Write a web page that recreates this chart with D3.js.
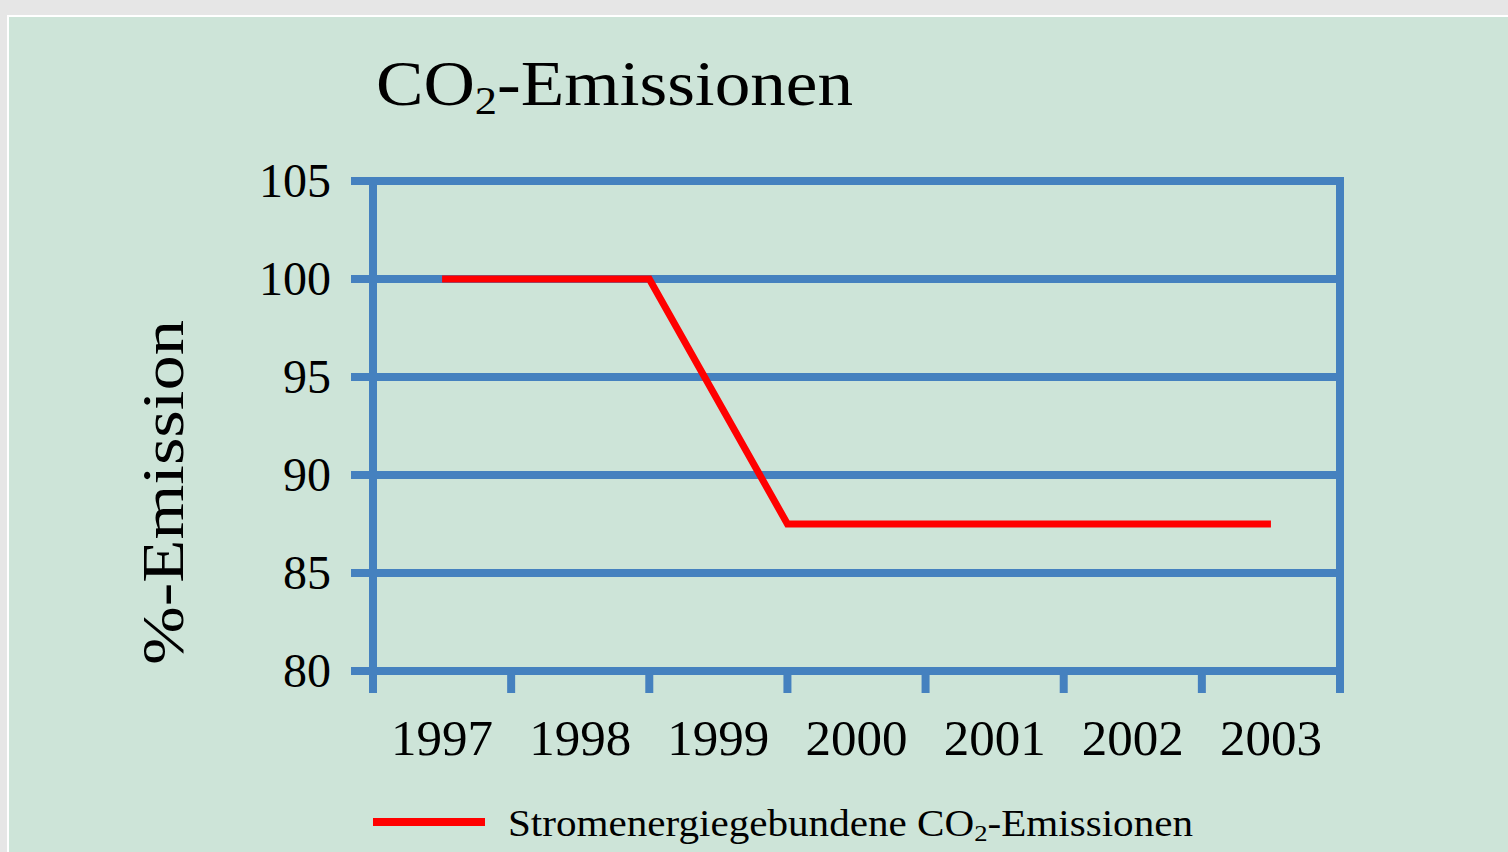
<!DOCTYPE html>
<html>
<head>
<meta charset="utf-8">
<script src="https://cdn.jsdelivr.net/npm/d3@7"></script>
<style>
  html, body { margin: 0; padding: 0; background: #e6e6e6; }
  svg { display: block; }
  text { font-family: "Liberation Serif", "Times New Roman", serif; fill: #000; }
</style>
</head>
<body>
<div id="chart"></div>
<script>
// Jahre (Kategorien) und Achsenwerte
const years = [1997, 1998, 1999, 2000, 2001, 2002, 2003];
const yTicks = [80, 85, 90, 95, 100, 105];

// Stromenergiegebundene CO2-Emissionen (Stützpunkte, in Jahren)
const seriesX = [1997, 1998.5, 1999.5, 2003];
const seriesY = [100, 100, 87.5, 87.5];

const width = 1508, height = 852;
const blue = "#4581bf", red = "#ff0000", panel = "#cde4d8";

const svg = d3.select("#chart").append("svg")
    .attr("width", width)
    .attr("height", height);

// Hintergrund: grauer Rand, weiße Linie, grünes Feld
svg.append("rect").attr("width", width).attr("height", height).attr("fill", "#e6e6e6");
svg.append("rect").attr("x", 7).attr("y", 15).attr("width", width).attr("height", height).attr("fill", "#fff");
svg.append("rect").attr("x", 9).attr("y", 17).attr("width", width).attr("height", height).attr("fill", panel);

// Skalen
const x = d3.scaleLinear().domain([1996.5, 2003.5]).range([373, 1340]);
const y = d3.scaleLinear().domain([80, 105]).range([671, 181]);

const g = svg.append("g");

// horizontale Gitterlinien
g.selectAll("line.grid")
    .data(yTicks)
    .join("line")
    .attr("class", "grid")
    .attr("x1", x(1996.5) - 22)
    .attr("x2", x(2003.5) + 4)
    .attr("y1", d => y(d))
    .attr("y2", d => y(d))
    .attr("stroke", blue)
    .attr("stroke-width", 8);

// senkrechte Achsen links und rechts
g.selectAll("line.vaxis")
    .data(x.domain())
    .join("line")
    .attr("class", "vaxis")
    .attr("x1", d => x(d))
    .attr("x2", d => x(d))
    .attr("y1", y(105) - 4)
    .attr("y2", y(80) + 22)
    .attr("stroke", blue)
    .attr("stroke-width", 8);

// Teilstriche an den Kategoriegrenzen
const bounds = d3.range(x.domain()[0], x.domain()[1] + 0.01, 1);
g.selectAll("line.xtick")
    .data(bounds)
    .join("line")
    .attr("class", "xtick")
    .attr("x1", d => x(d))
    .attr("x2", d => x(d))
    .attr("y1", y(80))
    .attr("y2", y(80) + 22)
    .attr("stroke", blue)
    .attr("stroke-width", 8);

// Y-Beschriftung
g.selectAll("text.ylab")
    .data(yTicks)
    .join("text")
    .attr("class", "ylab")
    .attr("x", 331)
    .attr("y", d => y(d) + 16)
    .attr("text-anchor", "end")
    .attr("font-size", 48)
    .text(d => d);

// X-Beschriftung
g.selectAll("text.xlab")
    .data(years)
    .join("text")
    .attr("class", "xlab")
    .attr("x", d => x(d))
    .attr("y", 755)
    .attr("text-anchor", "middle")
    .attr("font-size", 51)
    .text(d => d);

// Datenlinie
const line = d3.line()
    .x(d => x(d[0]))
    .y(d => y(d[1]));

g.append("path")
    .datum(d3.zip(seriesX, seriesY))
    .attr("d", line)
    .attr("fill", "none")
    .attr("stroke", red)
    .attr("stroke-width", 7);

// Titel
const title = svg.append("text")
    .attr("x", 376)
    .attr("y", 105)
    .attr("font-size", 64)
    .attr("textLength", 477)
    .attr("lengthAdjust", "spacingAndGlyphs");
title.append("tspan").text("CO");
title.append("tspan").attr("font-size", 40).attr("dy", 9).text("2");
title.append("tspan").attr("dy", -9).text("-Emissionen");

// Achsentitel
svg.append("text")
    .attr("transform", "translate(183,665) rotate(-90)")
    .attr("font-size", 60)
    .attr("textLength", 345)
    .attr("lengthAdjust", "spacingAndGlyphs")
    .text("%-Emission");

// Legende
svg.append("line")
    .attr("x1", 373).attr("x2", 485)
    .attr("y1", 822).attr("y2", 822)
    .attr("stroke", red)
    .attr("stroke-width", 8);

const leg = svg.append("text")
    .attr("x", 508)
    .attr("y", 836)
    .attr("font-size", 37)
    .attr("textLength", 685)
    .attr("lengthAdjust", "spacingAndGlyphs");
leg.append("tspan").text("Stromenergiegebundene CO");
leg.append("tspan").attr("font-size", 24).attr("dy", 5).text("2");
leg.append("tspan").attr("dy", -5).text("-Emissionen");
</script>
</body>
</html>
